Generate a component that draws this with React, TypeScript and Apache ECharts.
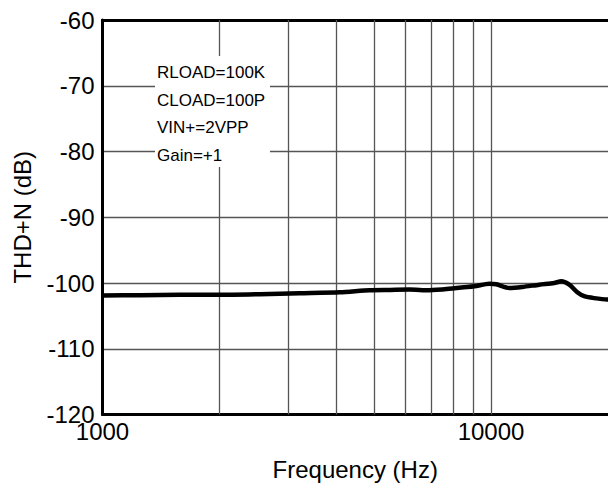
import React, { useEffect, useRef } from "react";
import * as echarts from "echarts";

const freqHz = [1000, 1250, 1580, 2000, 2540, 3220, 4080, 4870, 5500, 6170, 6940, 8050, 9060, 9900, 10320, 11140, 12030, 13310, 14540, 15160, 15900, 16670, 17370, 18430, 19900, 20000];
const thdDb = [-101.9, -101.85, -101.8, -101.8, -101.7, -101.55, -101.4, -101.1, -101.05, -101.0, -101.1, -100.8, -100.5, -100.1, -100.2, -100.75, -100.6, -100.25, -100.0, -99.75, -100.25, -101.4, -102.0, -102.3, -102.5, -102.5];
const xGridLines = [2000, 3000, 4000, 5000, 6000, 7000, 8000, 9000, 10000];
const xLabelValues = [1000, 10000];
const annotations = ["RLOAD=100K", "CLOAD=100P", "VIN+=2VPP", "Gain=+1"];

const FONT = "'Liberation Sans', Arial, sans-serif";

export default function App() {
  const ref = useRef<HTMLDivElement>(null);
  useEffect(() => {
    if (!ref.current) return;
    const chart = echarts.init(ref.current, null, { renderer: "svg" });
    const data = freqHz.map((f, i) => [f, thdDb[i]]);
    const option: any = {
      animation: false,
      backgroundColor: "#fff",
      grid: { left: 102.5, top: 20, width: 506.5, height: 394.5, containLabel: false },
      xAxis: [
        {
          type: "log",
          logBase: 10,
          min: 1000,
          max: 20000,
          position: "bottom",
          axisLine: { show: true, lineStyle: { color: "#000", width: 3 } },
          axisTick: { show: false },
          splitLine: { show: false },
          axisLabel: {
            color: "#000",
            fontSize: 24,
            fontFamily: FONT,
            margin: 5,
            showMaxLabel: false,
            formatter: (v: number) => {
              const r = Math.round(v);
              return xLabelValues.includes(r) ? String(r) : "";
            },
          },
          name: "Frequency (Hz)",
          nameLocation: "middle",
          nameGap: 43,
          nameTextStyle: { color: "#000", fontSize: 24, fontFamily: FONT },
        },
        {
          type: "log",
          logBase: 10,
          min: 1000,
          max: 20000,
          position: "top",
          axisLine: { show: true, lineStyle: { color: "#000", width: 3 } },
          axisTick: { show: false },
          splitLine: { show: false },
          axisLabel: { show: false },
        },
      ],
      yAxis: {
        type: "value",
        min: -120,
        max: -60,
        interval: 10,
        axisLine: { show: true, lineStyle: { color: "#000", width: 3 } },
        axisTick: { show: false },
        splitLine: {
          show: true,
          lineStyle: {
            color: ["rgba(0,0,0,0)", "#555", "#555", "#555", "#555", "#555", "rgba(0,0,0,0)"],
            width: 1.3,
          },
        },
        axisLabel: { color: "#000", fontSize: 24, fontFamily: FONT, margin: 8 },
        name: "THD+N (dB)",
        nameLocation: "middle",
        nameGap: 68,
        nameTextStyle: { color: "#000", fontSize: 24, fontFamily: FONT },
      },
      series: [
        {
          type: "line",
          xAxisIndex: 0,
          data,
          showSymbol: false,
          smooth: 0.25,
          lineStyle: { color: "#000", width: 4.5 },
          z: 5,
          markLine: {
            silent: true,
            symbol: ["none", "none"],
            label: { show: false },
            lineStyle: { color: "#555", width: 1.3, type: "solid" },
            data: xGridLines.map((v) => ({ xAxis: v })),
            z: 1,
          },
        },
      ],
      graphic: [
        {
          type: "rect",
          x: 155,
          y: 56,
          shape: { x: 0, y: 0, width: 115, height: 111 },
          style: { fill: "#fff" },
          z: 100,
        },
        ...annotations.map((t, i) => ({
          type: "text",
          x: 157,
          y: 72.5 + i * 27.5,
          z: 101,
          style: {
            text: t,
            fill: "#000",
            font: `17px ${FONT}`,
            verticalAlign: "middle",
            align: "left",
          },
        })),
      ],
    };
    chart.setOption(option);
    return () => chart.dispose();
  }, []);
  return (
    <div
      ref={ref}
      style={{ position: "fixed", left: 0, top: 0, width: 608, height: 491, background: "#fff" }}
    />
  );
}
